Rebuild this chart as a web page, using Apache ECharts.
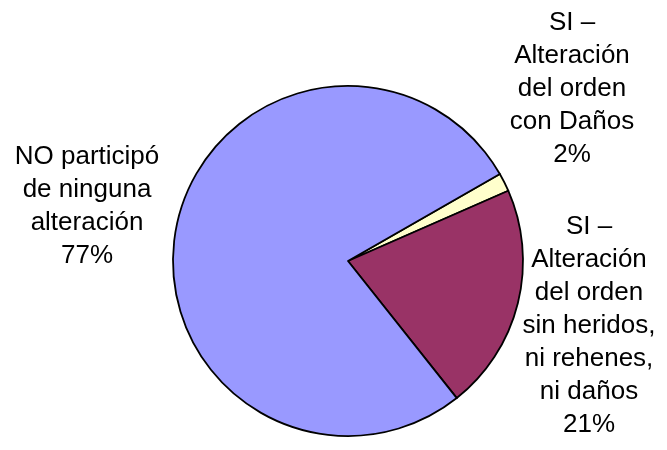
<!DOCTYPE html>
<html>
<head>
<meta charset="utf-8">
<script src="https://cdn.jsdelivr.net/npm/echarts@6/dist/echarts.min.js"></script>
<style>
html,body{margin:0;padding:0;background:#fff;}
#chart{width:667px;height:450px;}
</style>
</head>
<body>
<div id="chart"></div>
<script>
// Data
var categories = [
  'SI –\nAlteración\ndel orden\ncon Daños',
  'SI –\nAlteración\ndel orden\nsin heridos,\nni rehenes,\nni daños',
  'NO participó\nde ninguna\nalteración'
];
var values = [1.7, 20.9, 77.4];
var colors = ['#FFFFCC', '#993366', '#9999FF'];

// Label placement (layout only)
var labelPos = [[572, 89], [589, 326], [87, 206]];

var chart = echarts.init(document.getElementById('chart'), null, {renderer: 'canvas'});
chart.setOption({
  animation: false,
  backgroundColor: '#fff',
  series: [{
    type: 'pie',
    center: [348, 261],
    radius: 175,
    startAngle: 29.8,
    clockwise: true,
    avoidLabelOverlap: false,
    emphasis: {disabled: true},
    data: categories.map(function (c, i) {
      return {name: c, value: values[i], itemStyle: {color: colors[i]}};
    }),
    itemStyle: {borderColor: '#000', borderWidth: 1.8},
    label: {
      show: true,
      position: 'outside',
      color: '#000',
      fontFamily: 'Liberation Sans, Arial, sans-serif',
      fontSize: 26,
      lineHeight: 33,
      align: 'center',
      formatter: function (p) { return p.name + '\n' + Math.round(p.percent) + '%'; }
    },
    labelLine: {show: false},
    labelLayout: function (params) {
      var pos = labelPos[params.dataIndex];
      return {x: pos[0], y: pos[1], align: 'center', verticalAlign: 'middle'};
    }
  }]
});
</script>
</body>
</html>
